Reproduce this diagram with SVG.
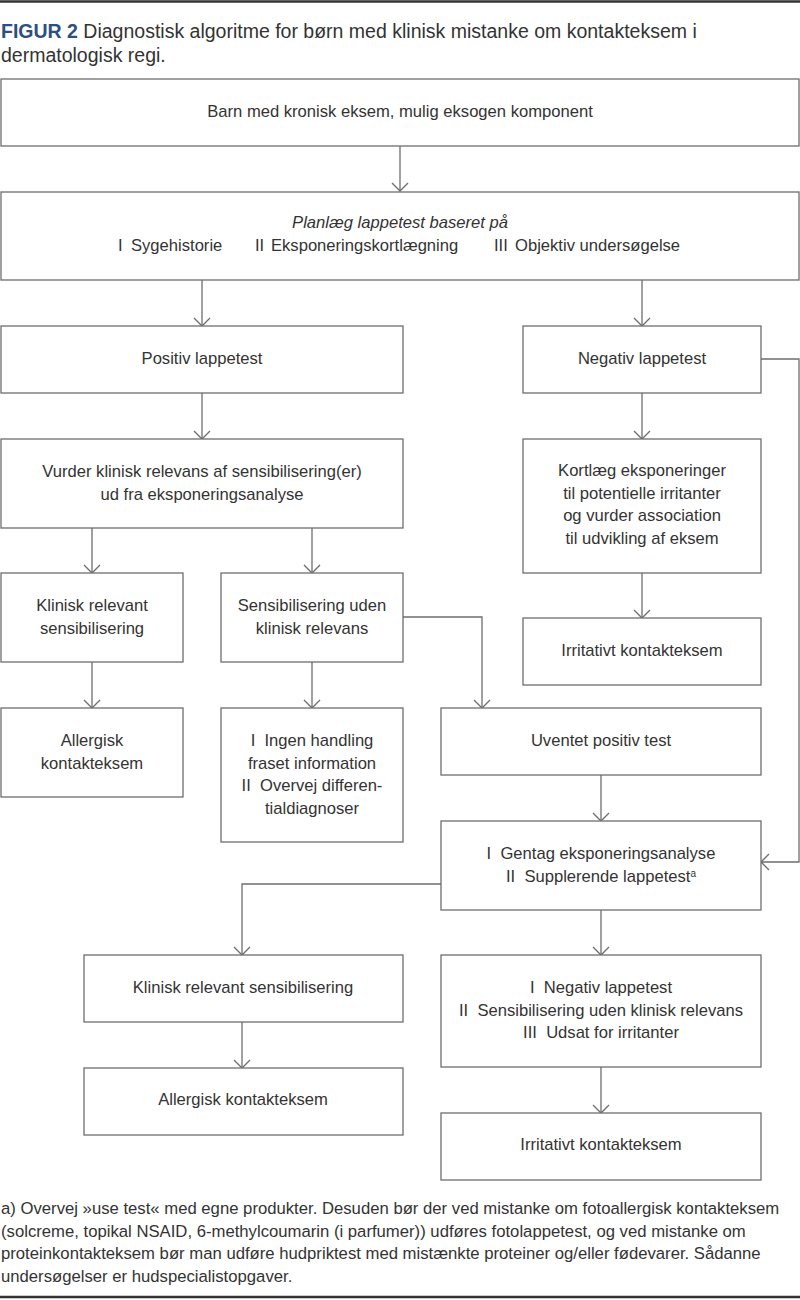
<svg xmlns="http://www.w3.org/2000/svg" width="800" height="1300" viewBox="0 0 800 1300">
<style>
.bx{fill:#fff;stroke:#6e6e6e;stroke-width:1.3}
.t{font-family:"Liberation Sans",Arial,sans-serif;font-size:16.6px;fill:#333;text-anchor:middle}
.s{text-anchor:start}
.c{fill:none;stroke:#6e6e6e;stroke-width:1.3}
.ttl{font-family:"Liberation Sans",Arial,sans-serif;font-size:19.5px;fill:#333}
.fn{font-family:"Liberation Sans",Arial,sans-serif;font-size:16.7px;fill:#333}
.rule{stroke:#333;stroke-width:2.5}
</style>
<defs>
<marker id="ah" viewBox="-10 -10 12 20" markerWidth="12" markerHeight="20" refX="0" refY="0" orient="auto" markerUnits="userSpaceOnUse">
<path d="M-8,-8 L0,0 L-8,8" fill="none" stroke="#6e6e6e" stroke-width="1.3"/>
</marker>
</defs>
<rect width="800" height="1300" fill="#fff"/>
<line class="rule" x1="0" y1="1.5" x2="800" y2="1.5"/>
<text class="ttl" x="1" y="38"><tspan font-weight="bold" fill="#2d5080">FIGUR 2</tspan> Diagnostisk algoritme for børn med klinisk mistanke om kontakteksem i</text>
<text class="ttl" x="1" y="62">dermatologisk regi.</text>

<g id="connectors">
<line class="c" x1="400" y1="146" x2="400" y2="191" marker-end="url(#ah)"/>
<line class="c" x1="202" y1="280" x2="202" y2="326" marker-end="url(#ah)"/>
<line class="c" x1="642" y1="280" x2="642" y2="326" marker-end="url(#ah)"/>
<polyline class="c" points="761,359 799,359 799,862 761,862" marker-end="url(#ah)"/>
<line class="c" x1="202" y1="393" x2="202" y2="439" marker-end="url(#ah)"/>
<line class="c" x1="642" y1="393" x2="642" y2="439" marker-end="url(#ah)"/>
<line class="c" x1="92" y1="528" x2="92" y2="573" marker-end="url(#ah)"/>
<line class="c" x1="312" y1="528" x2="312" y2="573" marker-end="url(#ah)"/>
<line class="c" x1="642" y1="573" x2="642" y2="618" marker-end="url(#ah)"/>
<polyline class="c" points="403,617 482,617 482,708" marker-end="url(#ah)"/>
<line class="c" x1="92" y1="662" x2="92" y2="708" marker-end="url(#ah)"/>
<line class="c" x1="312" y1="662" x2="312" y2="708" marker-end="url(#ah)"/>
<line class="c" x1="601" y1="775" x2="601" y2="821" marker-end="url(#ah)"/>
<polyline class="c" points="441,884 242,884 242,955" marker-end="url(#ah)"/>
<line class="c" x1="601" y1="910" x2="601" y2="955" marker-end="url(#ah)"/>
<line class="c" x1="242" y1="1022" x2="242" y2="1068" marker-end="url(#ah)"/>
<line class="c" x1="601" y1="1067" x2="601" y2="1113" marker-end="url(#ah)"/>
</g>

<g id="n-barn">
<rect class="bx" x="1" y="79" width="798" height="67"/>
<text class="t" x="400" y="117">Barn med kronisk eksem, mulig eksogen komponent</text>
</g>
<g id="n-planlaeg">
<rect class="bx" x="1" y="192" width="798" height="88"/>
<text class="t" x="400" y="228" font-style="italic">Planlæg lappetest baseret på</text>
<text class="t s" y="251"><tspan x="118">I</tspan><tspan x="131">Sygehistorie</tspan><tspan x="255">II</tspan><tspan x="271">Eksponeringskortlægning</tspan><tspan x="494">III</tspan><tspan x="515">Objektiv undersøgelse</tspan></text>
</g>
<g id="n-positiv">
<rect class="bx" x="1" y="326" width="402" height="67"/>
<text class="t" x="202" y="364">Positiv lappetest</text>
</g>
<g id="n-negativ">
<rect class="bx" x="523" y="326" width="238" height="67"/>
<text class="t" x="642" y="364">Negativ lappetest</text>
</g>
<g id="n-vurder">
<rect class="bx" x="1" y="439" width="402" height="89"/>
<text class="t" x="202" y="477">Vurder klinisk relevans af sensibilisering(er)</text>
<text class="t" x="202" y="499.5">ud fra eksponeringsanalyse</text>
</g>
<g id="n-kortlaeg">
<rect class="bx" x="523" y="439" width="238" height="134"/>
<text class="t" x="642" y="476">Kortlæg eksponeringer</text>
<text class="t" x="642" y="498.5">til potentielle irritanter</text>
<text class="t" x="642" y="521">og vurder association</text>
<text class="t" x="642" y="543.5">til udvikling af eksem</text>
</g>
<g id="n-klinisk1">
<rect class="bx" x="1" y="573" width="182" height="89"/>
<text class="t" x="92" y="611">Klinisk relevant</text>
<text class="t" x="92" y="633.5">sensibilisering</text>
</g>
<g id="n-sensib">
<rect class="bx" x="221" y="573" width="182" height="89"/>
<text class="t" x="312" y="611">Sensibilisering uden</text>
<text class="t" x="312" y="633.5">klinisk relevans</text>
</g>
<g id="n-irritativt1">
<rect class="bx" x="523" y="618" width="238" height="67"/>
<text class="t" x="642" y="656">Irritativt kontakteksem</text>
</g>
<g id="n-allergisk1">
<rect class="bx" x="1" y="708" width="182" height="89"/>
<text class="t" x="92" y="746">Allergisk</text>
<text class="t" x="92" y="768.5">kontakteksem</text>
</g>
<g id="n-ingen">
<rect class="bx" x="221" y="708" width="182" height="134"/>
<text class="t" x="312" y="746" xml:space="preserve">I  Ingen handling</text>
<text class="t" x="312" y="768.5">fraset information</text>
<text class="t" x="312" y="791" xml:space="preserve">II  Overvej differen-</text>
<text class="t" x="312" y="813.5">tialdiagnoser</text>
</g>
<g id="n-uventet">
<rect class="bx" x="441" y="708" width="320" height="67"/>
<text class="t" x="601" y="746">Uventet positiv test</text>
</g>
<g id="n-gentag">
<rect class="bx" x="441" y="821" width="320" height="89"/>
<text class="t" x="601" y="859" xml:space="preserve">I  Gentag eksponeringsanalyse</text>
<text class="t" x="601" y="881.5" xml:space="preserve">II  Supplerende lappetest<tspan font-size="10" dy="-5">a</tspan></text>
</g>
<g id="n-klinisk2">
<rect class="bx" x="84" y="955" width="319" height="67"/>
<text class="t" x="243" y="993">Klinisk relevant sensibilisering</text>
</g>
<g id="n-negliste">
<rect class="bx" x="441" y="955" width="320" height="112"/>
<text class="t" x="601" y="993" xml:space="preserve">I  Negativ lappetest</text>
<text class="t" x="601" y="1015.5" xml:space="preserve">II  Sensibilisering uden klinisk relevans</text>
<text class="t" x="601" y="1038" xml:space="preserve">III  Udsat for irritanter</text>
</g>
<g id="n-allergisk2">
<rect class="bx" x="84" y="1068" width="319" height="67"/>
<text class="t" x="243" y="1105">Allergisk kontakteksem</text>
</g>
<g id="n-irritativt2">
<rect class="bx" x="441" y="1113" width="320" height="67"/>
<text class="t" x="601" y="1150">Irritativt kontakteksem</text>
</g>

<text class="fn" x="1" y="1214">a) Overvej »use test« med egne produkter. Desuden bør der ved mistanke om fotoallergisk kontakteksem</text>
<text class="fn" x="1" y="1237">(solcreme, topikal NSAID, 6-methylcoumarin (i parfumer)) udføres fotolappetest, og ved mistanke om</text>
<text class="fn" x="1" y="1259">proteinkontakteksem bør man udføre hudpriktest med mistænkte proteiner og/eller fødevarer. Sådanne</text>
<text class="fn" x="1" y="1282">undersøgelser er hudspecialistopgaver.</text>
<line class="rule" x1="0" y1="1297" x2="800" y2="1297"/>
</svg>
